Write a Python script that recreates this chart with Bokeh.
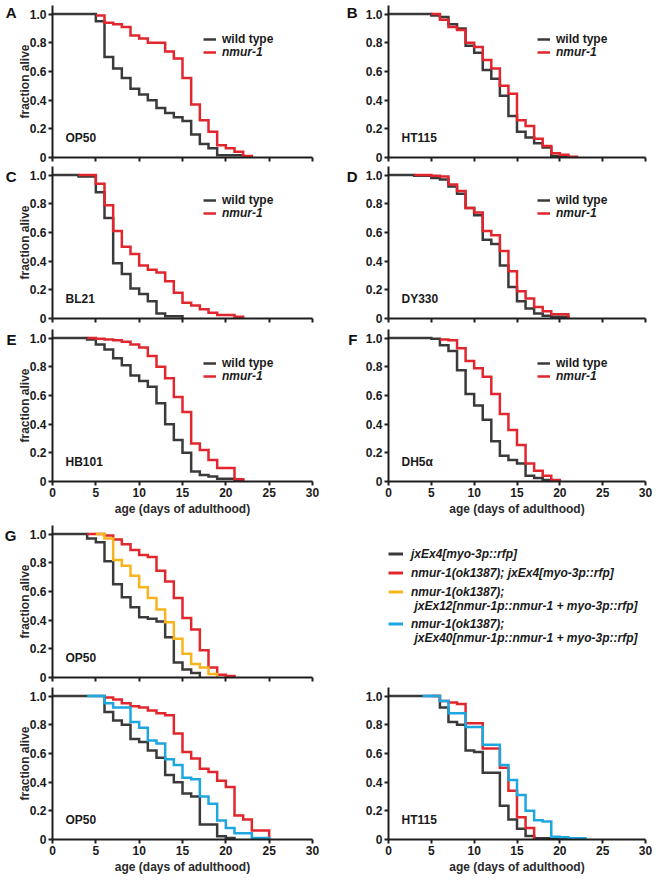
from bokeh.plotting import figure
from bokeh.models import (Legend, LegendItem, Label, LinearAxis, FixedTicker,
                          PrintfTickFormatter)
from bokeh.layouts import column, row
from bokeh.embed import file_html
from bokeh.resources import INLINE

# ---------------- data ----------------
DAY_TICKS = [0, 5, 10, 15, 20, 25, 30]
FRAC_TICKS = [0, 0.2, 0.4, 0.6, 0.8, 1.0]

# A  OP50
wt_days_A = [0, 5, 6, 7, 8, 9, 10, 11, 12, 13, 14, 15, 16, 17, 18, 19, 22]
wt_A = [1.0, 0.95, 0.70, 0.62, 0.555, 0.48, 0.44, 0.40, 0.345, 0.31, 0.28, 0.255, 0.16, 0.095, 0.065, 0.015, 0.0]
mut_days_A = [5, 6, 7, 8, 9, 10, 11, 13, 14, 15, 16, 17, 18, 19, 20, 21, 22, 23]
mut_A = [0.99, 0.94, 0.93, 0.91, 0.85, 0.83, 0.80, 0.74, 0.69, 0.555, 0.37, 0.26, 0.18, 0.085, 0.065, 0.04, 0.01, 0.0]

# B  HT115
wt_days_B = [0, 5, 6, 7, 8, 9, 10, 11, 12, 13, 14, 15, 16, 17, 18, 19, 21]
wt_B = [1.0, 0.99, 0.98, 0.93, 0.90, 0.78, 0.73, 0.61, 0.55, 0.43, 0.29, 0.18, 0.14, 0.10, 0.07, 0.01, 0.0]
mut_days_B = [5, 6, 7, 8, 9, 10, 11, 12, 13, 14, 15, 16, 17, 18, 19, 20, 21, 22]
mut_B = [1.0, 0.96, 0.91, 0.89, 0.80, 0.77, 0.68, 0.62, 0.50, 0.445, 0.26, 0.22, 0.13, 0.08, 0.03, 0.02, 0.005, 0.0]

# C  BL21
wt_days_C = [0, 3, 5, 6, 7, 8, 9, 10, 11, 12, 13, 15]
wt_C = [1.0, 0.99, 0.88, 0.70, 0.385, 0.31, 0.21, 0.17, 0.12, 0.035, 0.015, 0.0]
mut_days_C = [3, 5, 6, 7, 8, 9, 10, 11, 12, 13, 14, 15, 16, 17, 18, 19, 21, 22]
mut_C = [1.0, 0.94, 0.79, 0.61, 0.50, 0.45, 0.37, 0.34, 0.32, 0.26, 0.18, 0.11, 0.09, 0.065, 0.04, 0.025, 0.012, 0.0]

# D  DY330
wt_days_D = [0, 3, 5, 6, 7, 8, 9, 10, 11, 12, 13, 14, 15, 16, 17, 18, 19, 21]
wt_D = [1.0, 0.995, 0.98, 0.97, 0.92, 0.87, 0.77, 0.72, 0.55, 0.52, 0.37, 0.22, 0.12, 0.07, 0.035, 0.02, 0.012, 0.0]
mut_days_D = [3, 5, 6, 7, 8, 9, 10, 11, 12, 13, 14, 15, 16, 17, 18, 19, 21]
mut_D = [1.0, 0.995, 0.99, 0.935, 0.89, 0.77, 0.74, 0.61, 0.58, 0.47, 0.33, 0.19, 0.14, 0.08, 0.05, 0.03, 0.0]

# E  HB101
wt_days_E = [0, 4, 5, 6, 7, 8, 9, 10, 11, 12, 13, 14, 15, 16, 17, 18, 19, 21, 22]
wt_E = [1.0, 0.99, 0.955, 0.92, 0.86, 0.81, 0.74, 0.70, 0.66, 0.545, 0.40, 0.29, 0.20, 0.07, 0.045, 0.035, 0.02, 0.01, 0.0]
mut_days_E = [4, 5, 6, 7, 8, 9, 10, 11, 12, 13, 14, 15, 16, 17, 18, 19, 21, 22]
mut_E = [1.0, 0.995, 0.99, 0.985, 0.975, 0.955, 0.935, 0.875, 0.80, 0.72, 0.59, 0.485, 0.265, 0.22, 0.15, 0.095, 0.015, 0.0]

# F  DH5a
wt_days_F = [0, 5, 6, 7, 8, 9, 10, 11, 12, 13, 14, 15, 16, 17, 18, 19]
wt_F = [1.0, 0.995, 0.95, 0.91, 0.775, 0.61, 0.53, 0.43, 0.28, 0.18, 0.15, 0.125, 0.04, 0.025, 0.01, 0.0]
mut_days_F = [6, 7, 8, 9, 10, 11, 12, 13, 14, 15, 16, 17, 18, 19, 20]
mut_F = [0.99, 0.985, 0.93, 0.84, 0.79, 0.73, 0.61, 0.47, 0.36, 0.255, 0.125, 0.075, 0.04, 0.01, 0.0]

# G top  OP50
g1_ctrl_days = [0, 4, 5, 6, 7, 8, 9, 10, 11, 12, 13, 14, 15, 16, 17]
g1_ctrl = [1.0, 0.97, 0.944, 0.81, 0.65, 0.56, 0.49, 0.42, 0.41, 0.39, 0.28, 0.105, 0.056, 0.032, 0.0]
g1_mut_days = [4, 6, 7, 8, 9, 10, 11, 12, 13, 14, 15, 16, 17, 18, 19, 20, 21]
g1_mut = [1.0, 0.99, 0.963, 0.93, 0.89, 0.855, 0.84, 0.745, 0.67, 0.555, 0.415, 0.335, 0.19, 0.07, 0.02, 0.01, 0.0]
g1_ex12_days = [5, 6, 7, 8, 9, 10, 11, 12, 13, 14, 15, 16, 17, 18, 19]
g1_ex12 = [1.0, 0.97, 0.82, 0.78, 0.71, 0.63, 0.555, 0.475, 0.385, 0.27, 0.165, 0.095, 0.07, 0.025, 0.0]

# G bottom-left  OP50
g2_ctrl_days = [0, 6, 7, 8, 9, 10, 11, 12, 13, 14, 15, 16, 17, 19, 20, 21]
g2_ctrl = [1.0, 0.89, 0.83, 0.80, 0.70, 0.68, 0.62, 0.57, 0.45, 0.40, 0.32, 0.30, 0.105, 0.023, 0.01, 0.0]
g2_mut_days = [6, 7, 8, 9, 10, 11, 12, 13, 14, 15, 16, 17, 18, 19, 20, 21, 22, 23, 25]
g2_mut = [0.99, 0.977, 0.95, 0.93, 0.92, 0.90, 0.88, 0.867, 0.74, 0.61, 0.564, 0.494, 0.47, 0.41, 0.366, 0.168, 0.14, 0.063, 0.0]
g2_ex40_days = [4, 6, 7, 9, 10, 11, 12, 13, 14, 15, 16, 17, 18, 19, 20, 21, 23, 25]
g2_ex40 = [1.0, 0.95, 0.92, 0.82, 0.78, 0.69, 0.67, 0.56, 0.52, 0.43, 0.42, 0.30, 0.25, 0.133, 0.08, 0.044, 0.01, 0.0]

# G bottom-right  HT115
g3_ctrl_days = [0, 6, 7, 8, 9, 10, 11, 13, 14, 15, 16, 17, 21]
g3_ctrl = [1.0, 0.92, 0.82, 0.80, 0.62, 0.61, 0.465, 0.235, 0.14, 0.075, 0.025, 0.008, 0.0]
g3_mut_days = [5, 6, 7, 8, 9, 11, 13, 14, 15, 16, 17]
g3_mut = [1.0, 0.965, 0.955, 0.945, 0.81, 0.635, 0.50, 0.34, 0.155, 0.08, 0.0]
g3_ex40_days = [4, 6, 7, 9, 11, 13, 14, 15, 16, 17, 18, 19, 20, 21, 23]
g3_ex40 = [1.0, 0.965, 0.88, 0.785, 0.66, 0.52, 0.415, 0.31, 0.20, 0.135, 0.125, 0.02, 0.015, 0.008, 0.0]

PAIR_LABELS = ["wild type", "nmur-1"]
G_LABELS = ["jxEx4[myo-3p::rfp]", "nmur-1(ok1387); jxEx4[myo-3p::rfp]",
            "nmur-1(ok1387);", "nmur-1(ok1387);"]
G_SECOND = ["jxEx12[nmur-1p::nmur-1 + myo-3p::rfp]", "jxEx40[nmur-1p::nmur-1 + myo-3p::rfp]"]

# ---------------- style ----------------
FONT = "Liberation Sans"
C_BLACK = "#3a3a3a"
C_RED = "#e1262d"
C_YEL = "#f7b41c"
C_BLUE = "#1ca7e0"
C_AXIS = "#1e1e1e"
C_TEXT = "#1a1a1a"
LW = 2.5
LETTER_Y = 1.012

SIDES = {
    "L": dict(width=336, min_border_left=52, min_border_right=24),
    "R": dict(width=320, min_border_left=52, min_border_right=11),
}


def panel(side, height, top, bottom, xlabels=False, ytitle=False, xtitle=False):
    p = figure(height=height, x_range=(0, 30), y_range=(0, 1.06),
               output_backend="svg", toolbar_location=None, tools="",
               min_border_top=top, min_border_bottom=bottom, **SIDES[side])
    p.outline_line_color = None
    p.grid.visible = False
    p.xaxis.ticker = DAY_TICKS
    p.yaxis.ticker = FRAC_TICKS
    p.yaxis.formatter = PrintfTickFormatter(format="%.1f")
    p.yaxis.major_label_overrides = {0: "0"}
    for ax in p.axis:
        ax.axis_line_width = 2
        ax.axis_line_color = C_AXIS
        ax.major_tick_line_width = 2
        ax.major_tick_line_color = C_AXIS
        ax.major_tick_in = 0
        ax.major_tick_out = 4
        ax.minor_tick_line_color = None
        ax.major_label_text_font = FONT
        ax.major_label_text_font_size = "12px"
        ax.major_label_text_font_style = "bold"
        ax.major_label_text_color = C_TEXT
        ax.axis_label_text_font = FONT
        ax.axis_label_text_font_size = "12px"
        ax.axis_label_text_font_style = "bold"
        ax.axis_label_text_color = "#2a2a2a"
    p.yaxis.major_label_standoff = 2
    p.xaxis.major_label_standoff = 2
    if not xlabels:
        p.xaxis.major_label_text_color = None
    if ytitle:
        p.yaxis.axis_label = "fraction alive"
        p.yaxis.axis_label_standoff = -5
    if xtitle:
        p.xaxis.axis_label = "age (days of adulthood)"
        p.xaxis.axis_label_standoff = 2
    return p


def curve(p, days, surv, color):
    return p.step(days, surv, mode="after", line_width=LW, line_color=color,
                  line_join="miter")


def letter(p, text, standoff):
    # panel letter drawn as the single tick label of an extra, line-less left axis
    ax = LinearAxis(ticker=FixedTicker(ticks=[LETTER_Y]),
                    major_label_overrides={LETTER_Y: text},
                    axis_line_color=None, major_tick_line_color=None,
                    minor_tick_line_color=None, major_tick_out=0, major_tick_in=0,
                    major_label_standoff=standoff,
                    major_label_text_font=FONT, major_label_text_font_size="15px",
                    major_label_text_font_style="bold", major_label_text_color="#111111")
    p.add_layout(ax, "left")


def strain(p, text):
    p.add_layout(Label(x=13, y=20, x_units="screen", y_units="screen", text=text,
                       text_font=FONT, text_font_size="12px", text_font_style="bold",
                       text_baseline="middle", text_color=C_TEXT))


def legend_one(p, label, r, x, yb, style, gw=13, stand=6):
    lg = Legend(items=[LegendItem(label=label, renderers=[r])], location=(x, yb),
                padding=0, margin=0, spacing=0, border_line_color=None,
                background_fill_alpha=0, glyph_width=gw, glyph_height=14,
                label_height=14, label_standoff=stand,
                label_text_font=FONT, label_text_font_size="12px",
                label_text_font_style=style, label_text_color=C_TEXT)
    p.add_layout(lg)


def pair_panel(side, height, top, bottom, wd, wv, md, mv, let, st, xlabels=False, xtitle=False):
    p = panel(side, height, top, bottom, xlabels=xlabels, ytitle=(side == "L"), xtitle=xtitle)
    rw = curve(p, wd, wv, C_BLACK)
    rm = curve(p, md, mv, C_RED)
    lx = 151 if side == "L" else 149
    legend_one(p, PAIR_LABELS[0], rw, lx, 111, "bold")
    legend_one(p, PAIR_LABELS[1], rm, lx, 98, "bold italic")
    letter(p, let, -2 if side == "L" else 5)
    strain(p, st)
    return p


pA = pair_panel("L", 166, 5, 9, wt_days_A, wt_A, mut_days_A, mut_A, "A", "OP50")
pB = pair_panel("R", 166, 5, 9, wt_days_B, wt_B, mut_days_B, mut_B, "B", "HT115")
pC = pair_panel("L", 163, 0, 11, wt_days_C, wt_C, mut_days_C, mut_C, "C", "BL21")
pD = pair_panel("R", 163, 0, 11, wt_days_D, wt_D, mut_days_D, mut_D, "D", "DY330")
pE = pair_panel("L", 196, 0, 44, wt_days_E, wt_E, mut_days_E, mut_E, "E", "HB101", True, True)
pF = pair_panel("R", 196, 0, 44, wt_days_F, wt_F, mut_days_F, mut_F, "F", "DH5\u03b1", True, True)

# G top
pG1 = panel("L", 162, 0, 10, ytitle=True)
curve(pG1, g1_ctrl_days, g1_ctrl, C_BLACK)
curve(pG1, g1_mut_days, g1_mut, C_RED)
curve(pG1, g1_ex12_days, g1_ex12, C_YEL)
letter(pG1, "G", -2)
strain(pG1, "OP50")

# G legend (key renderers carry the series but sit outside the visible range)
pL = figure(width=320, height=162, x_range=(-10, -9), y_range=(-10, -9),
            output_backend="svg", toolbar_location=None, tools="",
            min_border_left=0, min_border_right=0, min_border_top=0, min_border_bottom=0,
            x_axis_location=None, y_axis_location=None)
pL.outline_line_color = None
pL.grid.visible = False
k_black = pL.line(g1_ctrl_days, g1_ctrl, line_color=C_BLACK, line_width=3)
k_red = pL.line(g1_mut_days, g1_mut, line_color=C_RED, line_width=3)
k_yel = pL.line(g1_ex12_days, g1_ex12, line_color=C_YEL, line_width=3)
k_blue = pL.line(g2_ex40_days, g2_ex40, line_color=C_BLUE, line_width=3)
common = dict(padding=0, margin=0, border_line_color=None, background_fill_alpha=0,
              glyph_width=15, glyph_height=15, label_height=15, label_standoff=8,
              label_text_font=FONT, label_text_font_size="12px",
              label_text_font_style="bold italic", label_text_color=C_TEXT)
pL.add_layout(Legend(items=[LegendItem(label=G_LABELS[0], renderers=[k_black]),
                            LegendItem(label=G_LABELS[1], renderers=[k_red]),
                            LegendItem(label=G_LABELS[2], renderers=[k_yel])],
                     location=(52, 78), spacing=4, **common))
pL.add_layout(Legend(items=[LegendItem(label=G_LABELS[3], renderers=[k_blue])],
                     location=(52, 46), spacing=0, **common))
for txt, yy in ((G_SECOND[0], 72), (G_SECOND[1], 40)):
    pL.add_layout(Label(x=78, y=yy, x_units="screen", y_units="screen", text=txt,
                        text_font=FONT, text_font_size="12px", text_font_style="bold italic",
                        text_baseline="middle", text_color=C_TEXT))

# G bottom
pG2 = panel("L", 193, 0, 41, xlabels=True, ytitle=True, xtitle=True)
curve(pG2, g2_ctrl_days, g2_ctrl, C_BLACK)
curve(pG2, g2_mut_days, g2_mut, C_RED)
curve(pG2, g2_ex40_days, g2_ex40, C_BLUE)
strain(pG2, "OP50")

pG3 = panel("R", 193, 0, 41, xlabels=True, xtitle=True)
curve(pG3, g3_ctrl_days, g3_ctrl, C_BLACK)
curve(pG3, g3_mut_days, g3_mut, C_RED)
curve(pG3, g3_ex40_days, g3_ex40, C_BLUE)
strain(pG3, "HT115")

layout = column(row(pA, pB), row(pC, pD), row(pE, pF), row(pG1, pL), row(pG2, pG3))

open("out.html", "w").write(file_html(layout, INLINE))
